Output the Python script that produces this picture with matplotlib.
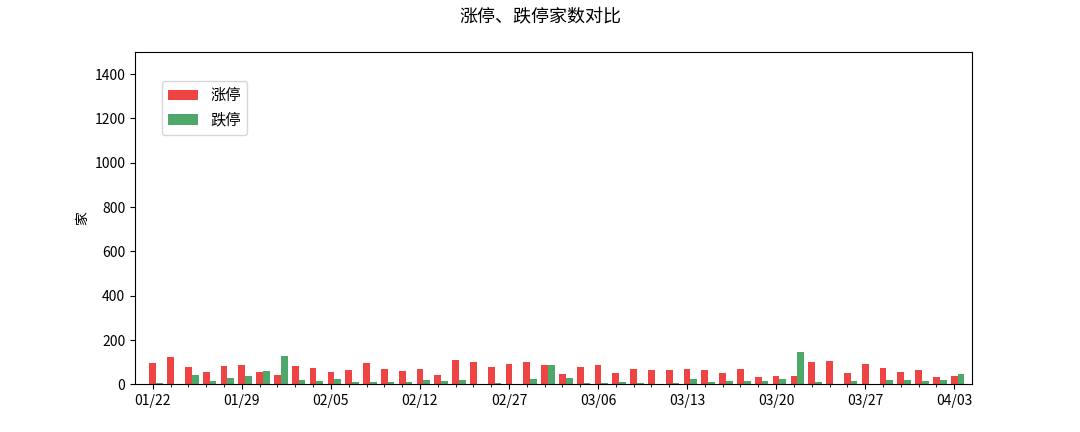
import matplotlib
matplotlib.use("Agg")
import matplotlib.pyplot as plt
import numpy as np

plt.rcParams['font.family'] = ['Noto Sans CJK SC', 'DejaVu Sans']
plt.rcParams['axes.unicode_minus'] = False

dates = ["01/22", "01/23", "01/24", "01/25", "01/26",
         "01/29", "01/30", "01/31", "02/01", "02/02",
         "02/05", "02/06", "02/07", "02/08", "02/09",
         "02/12", "02/13", "02/14", "02/23", "02/26",
         "02/27", "02/28", "03/01", "03/02", "03/05",
         "03/06", "03/07", "03/08", "03/09", "03/12",
         "03/13", "03/14", "03/15", "03/16", "03/19",
         "03/20", "03/21", "03/22", "03/23", "03/26",
         "03/27", "03/28", "03/29", "03/30", "04/02",
         "04/03"]

limit_up = [95, 122, 80, 58, 84, 90, 58, 45, 82, 76,
            56, 64, 99, 72, 62, 69, 45, 110, 100, 80,
            93, 100, 87, 46, 80, 87, 51, 72, 67, 64,
            69, 64, 52, 68, 35, 40, 37, 100, 106, 52,
            94, 76, 58, 66, 33, 39]

limit_down = [6, 2, 42, 14, 30, 36, 62, 130, 22, 16,
              24, 10, 9, 10, 13, 22, 15, 22, 4, 6,
              2, 24, 87, 28, 7, 5, 10, 7, 1, 7,
              24, 13, 15, 15, 15, 25, 145, 9, 4, 15,
              4, 19, 19, 15, 19, 46]

label_up = "涨停"
label_down = "跌停"

fig, ax = plt.subplots(figsize=(10.8, 4.32), dpi=100)
x = np.arange(len(dates))
w = 0.38
ax.bar(x, limit_up, width=w, color='#EF4444', label=label_up)
ax.bar(x + w, limit_down, width=w, color='#4DA86A', label=label_down)

ax.set_xlim(-1, len(dates))
ax.set_ylim(0, 1500)
ax.set_yticks(np.arange(0, 1401, 200))
ax.set_xticks(x[::5])
ax.set_xticklabels([dates[i] for i in x[::5]])
ax.set_xticks(x, minor=True)
ax.set_ylabel("家")
fig.suptitle("涨停、跌停家数对比", fontsize=13)
ax.legend(loc='upper left', bbox_to_anchor=(0.032, 0.912), borderaxespad=0, fontsize=11)

fig.savefig("out.png", dpi=100)
